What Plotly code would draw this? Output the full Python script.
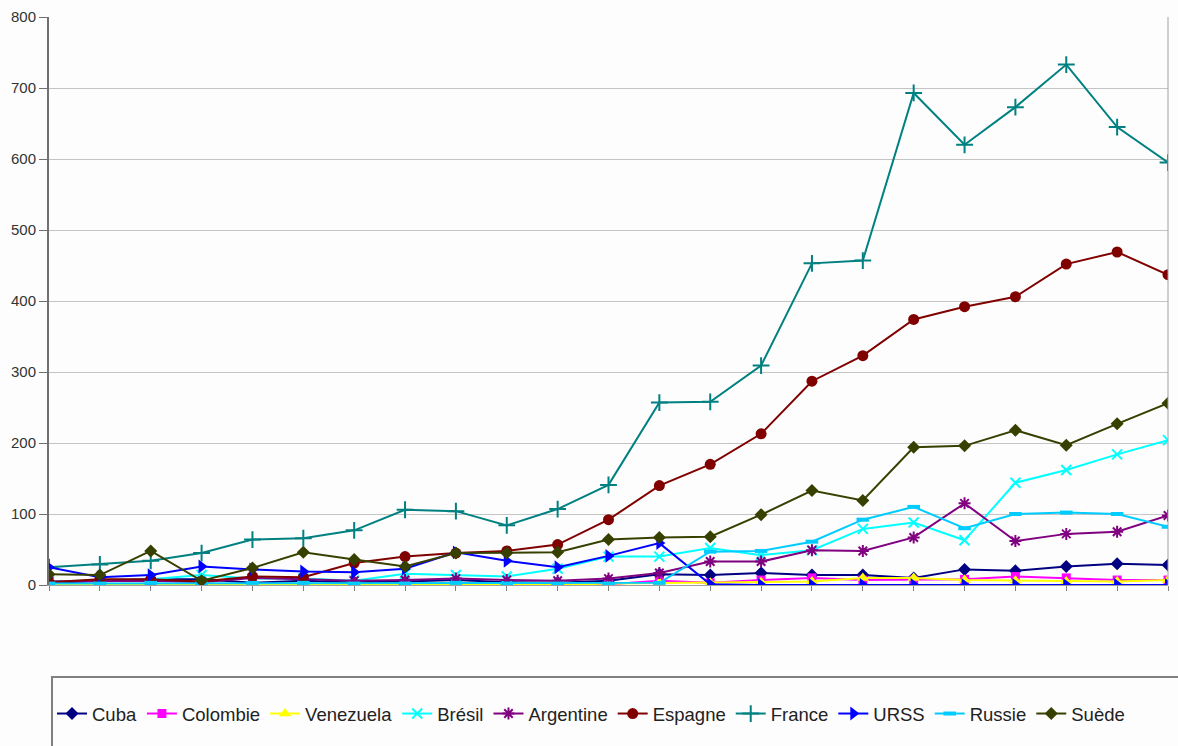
import plotly.graph_objects as go

# Period index (23 observations, no labels shown on the axis)
periods = list(range(23))

cuba = [3, 6, 8, 8, 3, 6, 4, 5, 7, 4, 3, 6, 15, 14, 17, 14, 14, 10, 22, 20, 26, 30, 28]
colombie = [0, 0, 0, 0, 0, 0, 0, 0, 0, 0, 0, 1, 6, 3, 7, 10, 7, 7, 8, 12, 10, 7, 7]
venezuela = [0, 0, 0, 0, 0, 0, 0, 0, 0, 0, 0, 2, 3, 3, 4, 5, 10, 10, 7, 6, 5, 5, 7]
bresil = [5, 7, 8, 14, 9, 9, 6, 16, 14, 12, 23, 40, 40, 52, 42, 49, 79, 88, 63, 144, 162, 184, 204]
argentine = [5, 5, 6, 4, 10, 8, 6, 7, 9, 7, 6, 9, 17, 33, 33, 49, 48, 67, 115, 62, 72, 75, 98]
espagne = [4, 8, 8, 5, 12, 11, 31, 40, 45, 48, 57, 92, 140, 170, 213, 287, 323, 374, 392, 406, 452, 469, 437]
france = [25, 29, 34, 45, 64, 66, 77, 106, 104, 84, 107, 141, 257, 258, 309, 453, 457, 693, 620, 673, 733, 645, 595]
urss = [25, 11, 14, 26, 22, 19, 18, 23, 46, 34, 25, 41, 59, 1, 0, 0, 0, 0, 0, 0, 0, 0, 0]
russie = [2, 2, 3, 2, 3, 3, 2, 2, 3, 2, 2, 2, 3, 47, 48, 61, 92, 110, 80, 100, 102, 100, 82]
suede = [15, 14, 48, 6, 24, 46, 36, 26, 45, 45, 46, 64, 67, 68, 99, 133, 119, 194, 196, 218, 197, 227, 256]

series = [
    ("Cuba", cuba, "#000080", dict(symbol="diamond", size=10)),
    ("Colombie", colombie, "#FF00FF", dict(symbol="square", size=9)),
    ("Venezuela", venezuela, "#FFFF00", dict(symbol="triangle-up", size=11)),
    ("Brésil", bresil, "#00FFFF", dict(symbol="x-thin", size=10, line=dict(width=2, color="#00FFFF"))),
    ("Argentine", argentine, "#800080", dict(symbol="asterisk", size=10, line=dict(width=2, color="#800080"))),
    ("Espagne", espagne, "#800000", dict(symbol="circle", size=11)),
    ("France", france, "#008080", dict(symbol="cross-thin", size=12, line=dict(width=2, color="#008080"))),
    ("URSS", urss, "#0000FF", dict(symbol="triangle-right", size=12)),
    ("Russie", russie, "#00CCFF", dict(symbol="line-ew", size=9, line=dict(width=4, color="#00CCFF"))),
    ("Suède", suede, "#384000", dict(symbol="diamond", size=10)),
]

fig = go.Figure()
for name, values, color, marker in series:
    m = dict(color=color, **marker)
    fig.add_trace(go.Scatter(
        x=periods, y=values, name=name, mode="lines+markers",
        line=dict(color=color, width=2), marker=m,
    ))

W, H = 1178, 746
# Legend frame: a box that runs off the bottom-right corner of the page
fig.add_shape(type="rect", xref="paper", yref="paper",
              x0=(52 - 49) / (1168 - 49), x1=(1200 - 49) / (1168 - 49),
              y0=-(760 - 585) / (585 - 17), y1=-(677 - 585) / (585 - 17),
              line=dict(color="#808080", width=2), fillcolor="rgba(0,0,0,0)")
# Right border of the plot area
fig.add_shape(type="line", xref="paper", yref="paper", x0=1, x1=1, y0=0, y1=1,
              line=dict(color="#a0a0a0", width=1))

fig.update_layout(
    width=W, height=H,
    margin=dict(l=49, r=10, t=17, b=161, autoexpand=False),
    paper_bgcolor="#fdfdfd", plot_bgcolor="#fdfdfd",
    font=dict(family="Liberation Sans, Arial, sans-serif", color="#222"),
    showlegend=True,
    legend=dict(orientation="h", xref="container", yref="container",
                x=52 / W, y=1 - 695 / H, xanchor="left", yanchor="top",
                font=dict(size=18.5, color="#222"), bgcolor="rgba(0,0,0,0)",
                borderwidth=0, tracegroupgap=0),
    xaxis=dict(range=[0, 22], tickmode="linear", tick0=0, dtick=1,
               showticklabels=False, ticks="outside", ticklen=5, tickcolor="#808080",
               showgrid=False, zeroline=False, showline=True, linecolor="#a0a0a0", linewidth=1,
               automargin=False),
    yaxis=dict(range=[0, 800], tickmode="linear", tick0=0, dtick=100,
               ticks="outside", ticklen=8, tickcolor="#707070",
               tickfont=dict(size=15, color="#333"),
               showgrid=True, gridcolor="#c4c4c4", gridwidth=1, zeroline=False,
               showline=True, linecolor="#707070", linewidth=2, automargin=False),
)

fig.write_html("out.html")
